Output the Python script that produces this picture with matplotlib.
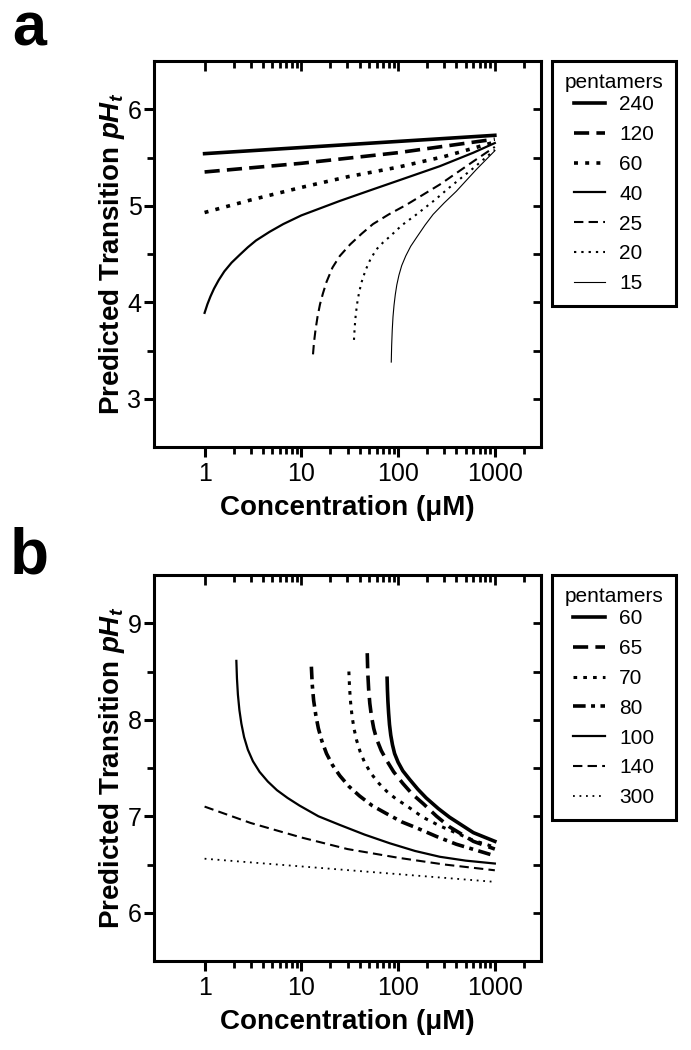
import matplotlib
matplotlib.use("Agg")
import matplotlib.pyplot as plt
from matplotlib import font_manager

plt.rcParams['font.family'] = ['Liberation Sans', 'DejaVu Sans']
narrow = 'Liberation Sans Narrow'
names = set(f.name for f in font_manager.fontManager.ttflist)
if narrow not in names:
    narrow = 'Liberation Sans'
plt.rcParams['mathtext.fontset'] = 'custom'
plt.rcParams['mathtext.it'] = narrow + ':italic:bold'
plt.rcParams['mathtext.rm'] = narrow + ':bold'

# ---- data ----
# panel a : pentamers 240 ... 15
a_labels = ['240', '120', '60', '40', '25', '20', '15']
a240_x = [1, 1000]
a240_y = [5.54, 5.73]
a120_x = [1, 10, 100, 1000]
a120_y = [5.35, 5.44, 5.55, 5.69]
a60_x = [1, 3, 10, 30, 100, 300, 1000]
a60_y = [4.93, 5.06, 5.19, 5.30, 5.40, 5.51, 5.66]
a40_x = [1, 1.07, 1.15, 1.25, 1.4, 1.6, 1.9, 2.3, 2.8, 3.4, 4.7, 6.5, 10,
         25, 55, 100, 270, 600, 1000]
a40_y = [3.89, 3.98, 4.06, 4.14, 4.23, 4.32, 4.41, 4.49, 4.57, 4.64, 4.73, 4.81, 4.90,
         5.05, 5.17, 5.26, 5.41, 5.55, 5.65]
a25_x = [13.2, 13.5, 14.0, 14.7, 15.6, 16.7, 18.2, 21, 25, 32, 42, 55, 80, 122, 270, 600, 1000]
a25_y = [3.46, 3.58, 3.71, 3.85, 3.98, 4.09, 4.21, 4.36, 4.48, 4.60, 4.71, 4.81, 4.91,
         5.01, 5.22, 5.46, 5.61]
a20_x = [35, 35.6, 36.5, 37.8, 39.5, 42, 46, 52, 60, 70, 82, 110, 155, 240, 340, 600, 1000]
a20_y = [3.61, 3.74, 3.87, 3.99, 4.10, 4.21, 4.33, 4.45, 4.55, 4.62, 4.68, 4.80, 4.91,
         5.06, 5.19, 5.39, 5.58]
a15_x = [85, 85.8, 87, 88.6, 90.8, 93.6, 97, 102, 109, 120, 135, 155, 190, 230, 300, 400,
         650, 1000]
a15_y = [3.38, 3.55, 3.71, 3.85, 3.97, 4.08, 4.18, 4.28, 4.38, 4.48, 4.58, 4.67, 4.80,
         4.91, 5.03, 5.15, 5.38, 5.57]

# panel b : pentamers 60 ... 300
b_labels = ['60', '65', '70', '80', '100', '140', '300']
b60_x = [77, 77.6, 78.5, 79.8, 81.5, 84, 87.5, 92, 100, 112, 132, 160, 195, 260, 340, 600, 1000]
b60_y = [8.43, 8.31, 8.19, 8.07, 7.95, 7.84, 7.74, 7.65, 7.56, 7.47, 7.38, 7.28, 7.19,
         7.08, 6.99, 6.83, 6.74]
b65_x = [48, 48.6, 49.6, 51, 53, 56, 60, 67, 76, 90, 112, 140, 182, 250, 340, 600, 1000]
b65_y = [8.69, 8.49, 8.32, 8.17, 8.04, 7.91, 7.80, 7.68, 7.58, 7.46, 7.34, 7.23, 7.13,
         7.00, 6.89, 6.74, 6.66]
b70_x = [31, 31.5, 32.3, 33.4, 35, 37.2, 40.5, 45, 52, 62, 76, 95, 122, 180, 270, 600, 1000]
b70_y = [8.50, 8.33, 8.18, 8.04, 7.91, 7.79, 7.67, 7.56, 7.45, 7.35, 7.26, 7.18, 7.11,
         6.99, 6.90, 6.75, 6.68]
b80_x = [12.7, 12.95, 13.4, 14.1, 15.0, 16.3, 18.2, 21, 25, 31, 40, 54, 75, 110, 155,
         250, 400, 1000]
b80_y = [8.55, 8.37, 8.20, 8.05, 7.91, 7.78, 7.65, 7.53, 7.42, 7.31, 7.21, 7.11, 7.03,
         6.94, 6.88, 6.79, 6.71, 6.59]
b100_x = [2.13, 2.16, 2.21, 2.29, 2.4, 2.56, 2.8, 3.16, 3.7, 4.5, 5.6, 7.2, 9.6, 15, 25,
          45, 82, 150, 270, 500, 1000]
b100_y = [8.61, 8.43, 8.26, 8.10, 7.96, 7.82, 7.69, 7.57, 7.46, 7.36, 7.27, 7.19, 7.11,
          7.00, 6.91, 6.81, 6.72, 6.64, 6.58, 6.54, 6.51]
b140_x = [1, 3, 10, 30, 100, 300, 1000]
b140_y = [7.10, 6.93, 6.78, 6.66, 6.57, 6.50, 6.44]
b300_x = [1, 10, 100, 1000]
b300_y = [6.56, 6.48, 6.40, 6.32]

x_major = [1, 10, 100, 1000]
x_major_labels = ['1', '10', '100', '1000']
x_minor = [2, 3, 4, 5, 6, 7, 8, 9, 20, 30, 40, 50, 60, 70, 80, 90,
           200, 300, 400, 500, 600, 700, 800, 900, 2000]
a_yticks = [3, 4, 5, 6]
a_yminor = [3.5, 4.5, 5.5]
b_yticks = [6, 7, 8, 9]
b_yminor = [6.5, 7.5, 8.5]

# ---- figure ----
W, H = 691, 1050
fig = plt.figure(figsize=(W / 100, H / 100), dpi=100)


def frame(ax, ylim, yticks, yminor):
    ax.set_xscale('log')
    ax.set_xlim(0.3, 3000)
    ax.set_ylim(*ylim)
    for s in ax.spines.values():
        s.set_linewidth(2.2)
    ax.set_xticks(x_major, x_major_labels)
    ax.set_xticks(x_minor, minor=True)
    ax.set_yticks(yticks)
    ax.set_yticks(yminor, minor=True)
    ax.tick_params(which='major', length=7, width=2.2, labelsize=18, pad=2)
    ax.tick_params(which='minor', length=5, width=2.0)
    ax.tick_params(axis='x', which='major', pad=4)
    top = ax.secondary_xaxis('top')
    top.set_xticks(x_major)
    top.set_xticks(x_minor, minor=True)
    top.tick_params(which='both', direction='in', labeltop=False, width=2.0)
    top.tick_params(which='major', length=7)
    top.tick_params(which='minor', length=5)
    right = ax.secondary_yaxis('right')
    right.set_yticks(yticks)
    right.set_yticks(yminor, minor=True)
    right.tick_params(which='both', direction='in', labelright=False, width=2.0, length=6)
    ax.set_xlabel('Concentration (\u03bcM)', fontsize=20, fontweight='bold')
    ax.xaxis.set_label_coords(0.5, -0.125)


def legend(ax, ytop):
    leg = ax.legend(title='pentamers', loc='upper left',
                    bbox_to_anchor=(552 / W, 1 - ytop / H),
                    bbox_transform=fig.transFigure, borderaxespad=0,
                    fontsize=15, title_fontsize=15, fancybox=False,
                    edgecolor='black', framealpha=1, handlelength=1.5,
                    handletextpad=0.7, labelspacing=0.52, borderpad=0.6)
    leg.get_frame().set_linewidth(2.2)
    # tighter gap between the title and the first entry
    leg._legend_box.sep = 2


axa = fig.add_axes([154 / W, 1 - 447 / H, 387 / W, 386 / H])
axa.plot(a240_x, a240_y, color='black', lw=2.6, label=a_labels[0])
axa.plot(a120_x, a120_y, color='black', lw=2.6, dashes=(4.2, 2), label=a_labels[1])
axa.plot(a60_x, a60_y, color='black', lw=2.6, dashes=(1.1, 2.0), label=a_labels[2])
axa.plot(a40_x, a40_y, color='black', lw=1.6, label=a_labels[3])
axa.plot(a25_x, a25_y, color='black', lw=1.5, dashes=(4.5, 2.5), label=a_labels[4])
axa.plot(a20_x, a20_y, color='black', lw=1.5, dashes=(1.1, 2.4), label=a_labels[5])
axa.plot(a15_x, a15_y, color='black', lw=0.8, label=a_labels[6])
frame(axa, (2.5, 6.5), a_yticks, a_yminor)
legend(axa, 61)

axb = fig.add_axes([154 / W, 1 - 961 / H, 387 / W, 386 / H])
axb.plot(b60_x, b60_y, color='black', lw=2.6, label=b_labels[0])
axb.plot(b65_x, b65_y, color='black', lw=2.6, dashes=(4.2, 2), label=b_labels[1])
axb.plot(b70_x, b70_y, color='black', lw=2.2, dashes=(1.2, 2.0), label=b_labels[2])
axb.plot(b80_x, b80_y, color='black', lw=2.6, dashes=(3.5, 1.5, 1.1, 1.5), label=b_labels[3])
axb.plot(b100_x, b100_y, color='black', lw=1.6, label=b_labels[4])
axb.plot(b140_x, b140_y, color='black', lw=1.5, dashes=(4.5, 2.5), label=b_labels[5])
axb.plot(b300_x, b300_y, color='black', lw=1.3, dashes=(1.0, 2.6), label=b_labels[6])
frame(axb, (5.5, 9.5), b_yticks, b_yminor)
legend(axb, 575)

ylab = r'Predicted Transition $pH_t$'
for yc in [(61 + 447) / 2, (575 + 961) / 2]:
    fig.text(112 / W, 1 - yc / H, ylab, rotation=90, ha='center', va='center',
             fontsize=20, fontweight='bold', family=[narrow, 'DejaVu Sans'])

fig.text(12 / W, 1 - 46 / H, 'a', fontsize=44, fontweight='bold', va='baseline')
fig.text(10 / W, 1 - 573 / H, 'b', fontsize=46, fontweight='bold', va='baseline')

fig.savefig('out.png', dpi=100)
